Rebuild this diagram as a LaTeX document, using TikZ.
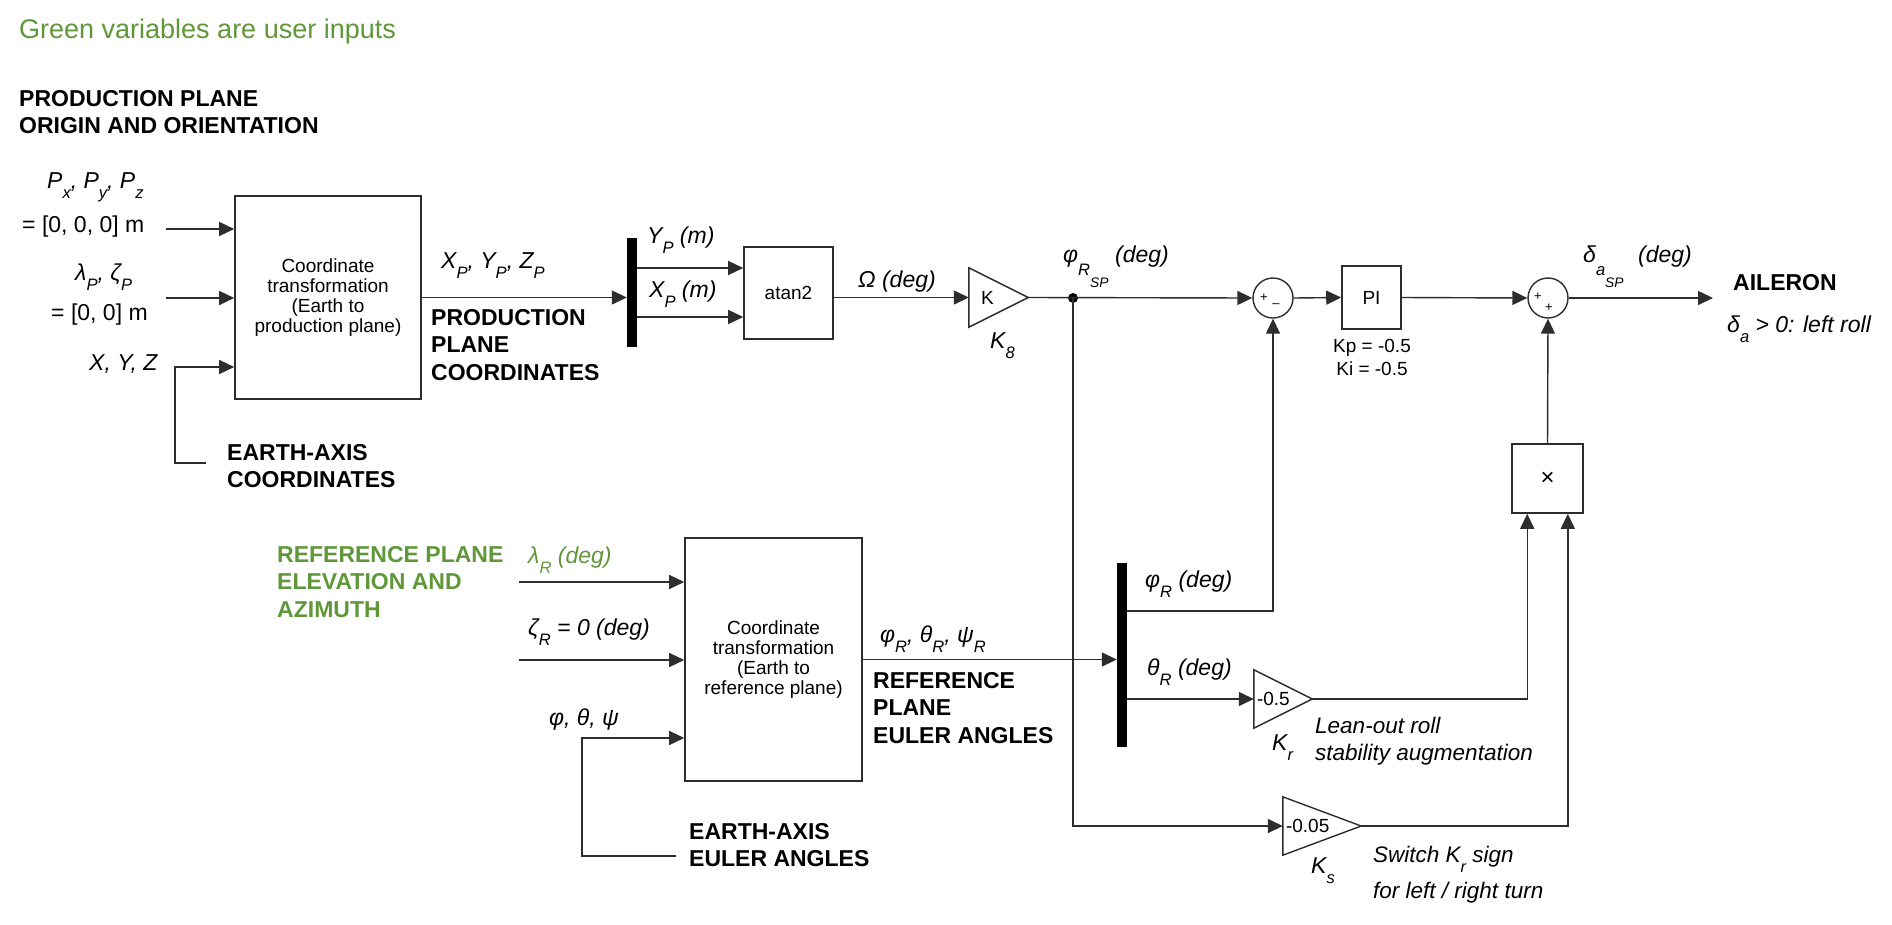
\documentclass[tikz,border=0pt]{standalone}
\usepackage{fontspec}
\setmainfont{Liberation Sans}
\usetikzlibrary{arrows.meta,calc}
\definecolor{gr}{RGB}{95,151,57}
\definecolor{lc}{RGB}{45,45,45}
\newcommand\sbs[1]{\raisebox{-0.45em}{\scalebox{0.72}{#1}}}
\newcommand\lines[1]{\begin{tabular}[t]{@{}l@{}}#1\end{tabular}}
\tikzset{
  ln/.style={line width=1.4pt, draw=lc},
  arr/.style={ln, -{Triangle[length=15pt,width=14pt]}},
  blk/.style={draw=lc, line width=1.6pt, inner sep=0, align=center, font=\fontsize{19}{20}\selectfont},
  muxbar/.style={fill=black, draw=none, inner sep=0, minimum width=10},
  sumc/.style={circle, draw=lc, line width=1.4pt, minimum size=40, inner sep=0},
  gainbox/.style={draw=none, inner sep=0},
  lb/.style={anchor=base west, inner sep=0, font=\fontsize{23}{27.5}\selectfont\itshape},
  up/.style={anchor=base west, inner sep=0, font=\fontsize{23}{27.5}\selectfont},
  hd/.style={anchor=base west, inner sep=0, font=\fontsize{23}{27.5}\selectfont\bfseries},
  sm/.style={inner sep=0, font=\fontsize{19}{23}\selectfont},
  sg/.style={inner sep=0, font=\fontsize{13}{14}\selectfont},
}
\begin{document}
\begin{tikzpicture}[x=1pt,y=-1pt]
\fill[white] (0,0) rectangle (1892,924);
\useasboundingbox (0,0) rectangle (1892,924);

% ---------- top texts ----------
\node[anchor=base west, inner sep=0, font=\fontsize{27}{30}\selectfont, text=gr] (title) at (19,38) {Green variables are user inputs};
\node[hd] (hprod) at (19,106) {\lines{PRODUCTION PLANE\\ORIGIN AND ORIENTATION}};

% ---------- blocks ----------
\node[blk, minimum width=186, minimum height=203] (box1) at (328,297.5) {Coordinate\\transformation\\(Earth to\\production plane)};
\node[muxbar, minimum height=109] (mux1) at (632,292.5) {};
\node[blk, minimum width=89, minimum height=92] (atan) at (788.5,293) {atan2};
\node[gainbox, minimum width=59, minimum height=59] (gK) at (998.5,297.5) {};
\draw[ln] (gK.north west) -- (gK.east) -- (gK.south west) -- cycle;
\node[sm, anchor=west] (gKt) at ([xshift=12]gK.west) {K};
\node[circle, fill=black, inner sep=0, minimum size=10] (dot) at (1073,298) {};
\node[sumc] (sum1) at (1273,298) {};
\node[sg] (s1a) at (1264,298) {+};
\node[sg] (s1b) at (1276,307) {\raisebox{0.3ex}{–}};
\node[blk, minimum width=59, minimum height=63] (pi) at (1371.5,297.5) {PI};
\node[sumc] (sum2) at (1548,298) {};
\node[sg] (s2a) at (1538,297) {+};
\node[sg] (s2b) at (1549,308) {+};
\node[blk, minimum width=71, minimum height=69, font=\fontsize{24}{24}\selectfont] (mult) at (1547.5,478.5) {×};
\coordinate (out) at (1713,298);

\node[blk, minimum width=177, minimum height=243] (box2) at (773.5,659.5) {Coordinate\\transformation\\(Earth to\\reference plane)};
\node[muxbar, minimum height=184] (mux2) at (1122,655) {};
\node[gainbox, minimum width=58, minimum height=58] (gKr) at (1283,699) {};
\draw[ln] (gKr.north west) -- (gKr.east) -- (gKr.south west) -- cycle;
\node[sm, anchor=west] (gKrt) at ([xshift=3]gKr.west) {-0.5};
\node[gainbox, minimum width=78, minimum height=58] (gKs) at (1322,826) {};
\draw[ln] (gKs.north west) -- (gKs.east) -- (gKs.south west) -- cycle;
\node[sm, anchor=west] (gKst) at ([xshift=3]gKs.west) {-0.05};

% ---------- connectors, production plane ----------
\coordinate (in1) at (166,229);
\coordinate (in2) at (166,298);
\coordinate (in3) at (206,463);
\coordinate (c3) at (175,367);
\draw[arr] (in1) -- (in1 -| box1.west);
\draw[arr] (in2) -- (in2 -| box1.west);
\draw[arr] (in3) -| (c3) -- (c3 -| box1.west);
\draw[arr] (box1.east) -- (box1.east -| mux1.west);
\coordinate (ya) at (0,268);
\coordinate (yb) at (0,317);
\draw[arr] (mux1.east |- ya) -- (atan.west |- ya);
\draw[arr] (mux1.east |- yb) -- (atan.west |- yb);
\draw[arr] (atan.east |- gK) -- (gK.west);
\draw[arr] (gK.east) -- (sum1.west);
\draw[arr] (sum1.east) -- (pi.west);
\draw[arr] (pi.east) -- (sum2.west);
\draw[arr] (sum2.east) -- (out);
\draw[arr] (mult.north) -- (sum2.south);

% ---------- connectors, reference plane ----------
\coordinate (r1) at (519,582);
\coordinate (r2) at (519,660);
\coordinate (r3) at (676,856);
\coordinate (c4) at (582,738);
\draw[arr] (r1) -- (r1 -| box2.west);
\draw[arr] (r2) -- (r2 -| box2.west);
\draw[arr] (r3) -| (c4) -- (c4 -| box2.west);
\draw[arr] (box2.east) -- (box2.east -| mux2.west);
\coordinate (yphi) at (0,611);
\draw[arr] (mux2.east |- yphi) -| (sum1.south);
\draw[arr] (mux2.east |- gKr) -- (gKr.west);
\coordinate (mA) at ([xshift=16]mult.south west);
\coordinate (mB) at ([xshift=-16]mult.south east);
\draw[arr] (gKr.east) -| (mA);
\draw[arr] (dot.center) |- (gKs.west);
\draw[arr] (gKs.east) -| (mB);

% ---------- labels ----------
\node[lb] (lp) at (47,188) {P\sbs{x}, P\sbs{y}, P\sbs{z}};
\node[up] (lpv) at (22,232) {= [0, 0, 0] m};
\node[lb] (ll) at (75,280) {λ\sbs{P}, ζ\sbs{P}};
\node[up] (llv) at (51,320) {= [0, 0] m};
\node[lb] (lxyz) at (89,370) {X, Y, Z};
\node[lb] (lxp) at (441,268) {X\sbs{P}, Y\sbs{P}, Z\sbs{P}};
\node[hd] (hppc) at (431,325) {\lines{PRODUCTION\\PLANE\\COORDINATES}};
\node[hd] (heac) at (227,460) {\lines{EARTH-AXIS\\COORDINATES}};
\node[lb] (lyp) at (647,243) {Y\sbs{P} (m)};
\node[lb] (lxpm) at (649,297) {X\sbs{P} (m)};
\node[lb] (lom) at (858,287) {Ω (deg)};
\node[lb] (lk8) at (990,348) {K\sbs{8}};
\node[lb] (lphisp) at (1063,262) {φ\raisebox{-13pt}{\scalebox{0.72}{R}}\raisebox{-25pt}{\scalebox{0.6}{SP}}};
\node[lb] (lphisp2) at (1115,262) {(deg)};
\node[sm, anchor=base] (lkp) at (1372,352) {Kp = -0.5};
\node[sm, anchor=base] (lki) at (1372,375) {Ki = -0.5};
\node[lb] (ldsp) at (1583,262) {δ\raisebox{-13pt}{\scalebox{0.72}{a}}\raisebox{-25pt}{\scalebox{0.6}{SP}}};
\node[lb] (ldsp2) at (1638,262) {(deg)};
\node[hd] (hail) at (1733,290) {AILERON};
\node[lb] (lda) at (1727,332) {δ\sbs{a} > 0: left roll};

\node[hd, text=gr] (href) at (277,562) {\lines{REFERENCE PLANE\\ELEVATION AND\\AZIMUTH}};
\node[lb, text=gr] (llr) at (528,563) {λ\sbs{R} (deg)};
\node[lb] (lzr) at (528,635) {ζ\sbs{R} = 0 (deg)};
\node[lb] (lang) at (549,725) {φ, θ, ψ};
\node[hd] (heea) at (689,839) {\lines{EARTH-AXIS\\EULER ANGLES}};
\node[lb] (lrout) at (880,642) {φ\sbs{R}, θ\sbs{R}, ψ\sbs{R}};
\node[hd] (hrpe) at (873,688) {\lines{REFERENCE\\PLANE\\EULER ANGLES}};
\node[lb] (lphr) at (1145,587) {φ\sbs{R} (deg)};
\node[lb] (lthr) at (1147,675) {θ\sbs{R} (deg)};
\node[lb] (lkr) at (1272,750) {K\sbs{r}};
\node[lb, font=\fontsize{22.5}{27.5}\selectfont\itshape] (llean) at (1315,733) {\lines{Lean-out roll\\stability augmentation}};
\node[lb] (lks) at (1311,873) {K\sbs{s}};
\node[lb, font=\fontsize{22.5}{28}\selectfont\itshape] (lsw) at (1373,862) {\lines{Switch K\sbs{r} sign\\[8pt]for left / right turn}};
\end{tikzpicture}
\end{document}
